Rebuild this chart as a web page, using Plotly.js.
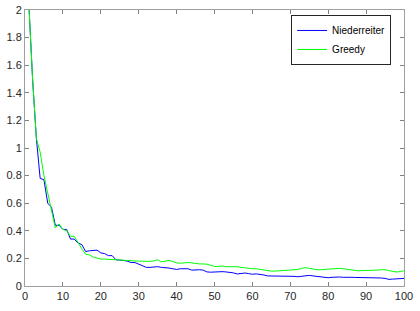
<!DOCTYPE html>
<html>
<head>
<meta charset="utf-8">
<script src="https://cdn.plot.ly/plotly-3.0.1.min.js"></script>
<style>html,body{margin:0;padding:0;background:#fff;}#chart{width:420px;height:311px;}</style>
</head>
<body>
<div id="chart"></div>
<script>
var niederreiter = [2.05,1.5,1.07,0.78,0.77,0.6,0.57,0.44,0.44,0.41,
0.41,0.34,0.34,0.31,0.30,0.25,0.255,0.26,0.26,0.24,
0.235,0.22,0.22,0.19,0.19,0.185,0.18,0.17,0.17,0.16,
0.15,0.135,0.135,0.14,0.14,0.135,0.135,0.13,0.125,0.12,
0.125,0.125,0.125,0.115,0.118,0.118,0.115,0.102,0.1,0.102,
0.105,0.104,0.102,0.1,0.095,0.087,0.092,0.094,0.09,0.085,
0.088,0.085,0.08,0.073,0.073,0.075,0.073,0.072,0.072,0.07,
0.07,0.067,0.07,0.075,0.077,0.073,0.07,0.067,0.065,0.06,
0.063,0.065,0.065,0.063,0.065,0.063,0.062,0.062,0.06,0.06,
0.06,0.06,0.06,0.058,0.055,0.048,0.05,0.052,0.055,0.055];
var greedy = [2.05,1.5,1.07,0.97,0.8,0.67,0.55,0.42,0.45,0.41,
0.40,0.36,0.36,0.31,0.27,0.23,0.225,0.21,0.2,0.195,
0.195,0.193,0.19,0.19,0.19,0.187,0.185,0.185,0.183,0.18,
0.18,0.178,0.178,0.182,0.19,0.175,0.18,0.185,0.178,0.168,
0.165,0.168,0.17,0.168,0.162,0.16,0.16,0.158,0.15,0.142,
0.142,0.145,0.14,0.14,0.142,0.14,0.135,0.13,0.128,0.125,
0.125,0.12,0.115,0.11,0.108,0.108,0.11,0.112,0.115,0.118,
0.12,0.12,0.128,0.133,0.128,0.122,0.118,0.118,0.12,0.125,
0.128,0.13,0.128,0.125,0.12,0.118,0.112,0.11,0.112,0.112,
0.112,0.113,0.115,0.118,0.118,0.112,0.105,0.101,0.105,0.11];
var iterations = [];
for (var i = 1; i <= niederreiter.length; i++) iterations.push(i);
var seriesNames = ['Niederreiter', 'Greedy'];

var traces = [
  {x: iterations, y: niederreiter, name: seriesNames[0], type: 'scatter', mode: 'lines',
   line: {color: '#0000ff', width: 1}},
  {x: iterations, y: greedy, name: seriesNames[1], type: 'scatter', mode: 'lines',
   line: {color: '#00ff00', width: 1}}
];
var axisCommon = {
  showgrid: false, zeroline: false, showline: true, linecolor: '#a0a0a0', linewidth: 1,
  mirror: 'ticks', ticks: 'inside', ticklen: 4, tickcolor: '#808080', tickwidth: 1,
  tickfont: {family: 'Liberation Sans, Arial, sans-serif', size: 11, color: '#262626'}
};
var layout = {
  width: 420, height: 311,
  margin: {l: 25, r: 16, t: 10, b: 25, pad: 0},
  paper_bgcolor: '#ffffff', plot_bgcolor: '#ffffff',
  showlegend: true,
  xaxis: Object.assign({}, axisCommon, {range: [0, 100], dtick: 10, tick0: 0}),
  yaxis: Object.assign({}, axisCommon, {range: [0, 2], dtick: 0.2, tick0: 0}),
  legend: {x: 0.966, y: 0.982, xanchor: 'right', yanchor: 'top',
    bgcolor: '#ffffff', bordercolor: '#262626', borderwidth: 1,
    font: {family: 'Liberation Sans, Arial, sans-serif', size: 10, color: '#000'},
    tracegroupgap: 0, itemwidth: 30}
};
Plotly.newPlot('chart', traces, layout, {displayModeBar: false, staticPlot: true});
</script>
</body>
</html>
